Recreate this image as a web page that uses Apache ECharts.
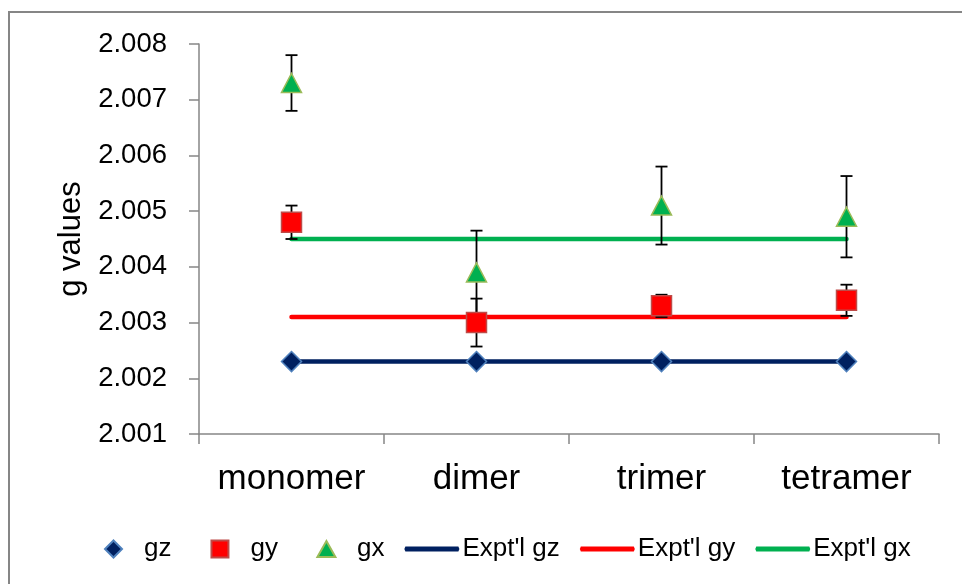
<!DOCTYPE html>
<html>
<head>
<meta charset="utf-8">
<script src="https://cdn.jsdelivr.net/npm/echarts@6/dist/echarts.min.js"></script>
<style>
html,body{margin:0;padding:0;background:#fff;}
#chart{width:962px;height:584px;}
</style>
</head>
<body>
<div id="chart"></div>
<script>
const categories = ['monomer', 'dimer', 'trimer', 'tetramer'];
const gz = [2.0023, 2.0023, 2.0023, 2.0023];
const gy = [2.0048, 2.0030, 2.0033, 2.0034];
const gyErr = [0.0003, 0.00043, 0.0002, 0.00028];
const gx = [2.0073, 2.0039, 2.0051, 2.0049];
const gxErr = [0.0005, 0.00075, 0.0007, 0.00073];
const exptGz = [2.0023, 2.0023, 2.0023, 2.0023];
const exptGy = [2.0031, 2.0031, 2.0031, 2.0031];
const exptGx = [2.0045, 2.0045, 2.0045, 2.0045];
const yTicks = { min: 2.001, max: 2.008, interval: 0.001 };

const FONT = 'Liberation Sans';
const AXIS_COLOR = '#868686';
const C_GZ = '#002060', C_GY = '#FF0000', C_GX = '#00B050';

function errSeries(name, vals, errs) {
  return {
    name: name + ' err',
    type: 'custom',
    z: 3,
    silent: true,
    data: vals.map((v, i) => [i, v, errs[i]]),
    encode: { x: 0, y: 1 },
    renderItem: function (params, api) {
      const i = api.value(0);
      const v = api.value(1);
      const e = api.value(2);
      const hi = api.coord([i, v + e]);
      const lo = api.coord([i, v - e]);
      const cw = 6;
      const st = { stroke: '#000', lineWidth: 1.8 };
      return {
        type: 'group',
        children: [
          { type: 'line', shape: { x1: hi[0], y1: hi[1], x2: lo[0], y2: lo[1] }, style: st },
          { type: 'line', shape: { x1: hi[0] - cw, y1: hi[1], x2: hi[0] + cw, y2: hi[1] }, style: st },
          { type: 'line', shape: { x1: lo[0] - cw, y1: lo[1], x2: lo[0] + cw, y2: lo[1] }, style: st }
        ]
      };
    }
  };
}

function exptLine(name, vals, color) {
  return {
    name: name,
    type: 'line',
    z: 2,
    data: vals,
    symbol: 'none',
    showSymbol: false,
    lineStyle: { color: color, width: 4.5, cap: 'round' },
    itemStyle: { color: color }
  };
}

const LINE_ICON = 'path://M0,0M55,18M1,6.5L54,6.5L55,9L54,11.5L1,11.5L0,9Z';
const lineLegend = (name, color) => ({
  name: name,
  icon: LINE_ICON,
  itemStyle: { color: color, borderWidth: 0 }
});

const chart = echarts.init(document.getElementById('chart'), null, { renderer: 'canvas' });
chart.setOption({
  animation: false,
  backgroundColor: '#ffffff',
  textStyle: { fontFamily: FONT, color: '#000' },
  graphic: [{
    type: 'rect',
    silent: true,
    shape: { x: 9, y: 12, width: 1000, height: 1000 },
    style: { fill: 'none', stroke: AXIS_COLOR, lineWidth: 2 }
  }],
  grid: { left: 199, right: 23, top: 44, bottom: 150, containLabel: false },
  legend: {
    left: 80,
    top: 531,
    itemWidth: 55,
    itemHeight: 18,
    itemGap: 20,
    textStyle: { fontFamily: FONT, fontSize: 26, color: '#000', padding: [0, 0, 0, -2] },
    data: [
      { name: 'gz', icon: 'path://M0,0M55,18M27.5,0.5L36,9L27.5,17.5L19,9Z' },
      { name: 'gy', icon: 'path://M0,0M55,18M19,0.5L36,0.5L36,17.5L19,17.5Z' },
      { name: 'gx', icon: 'path://M0,0M55,18M27.5,1L36.5,17L18.5,17Z' },
      lineLegend("Expt'l gz", C_GZ),
      lineLegend("Expt'l gy", C_GY),
      lineLegend("Expt'l gx", C_GX)
    ]
  },
  xAxis: {
    type: 'category',
    data: categories,
    boundaryGap: true,
    axisLine: { lineStyle: { color: AXIS_COLOR, width: 1.5 } },
    axisTick: { show: true, length: 10, inside: false, alignWithLabel: false, lineStyle: { color: AXIS_COLOR, width: 1.5 } },
    axisLabel: { fontFamily: FONT, fontSize: 35, color: '#000', margin: 28, interval: 0 },
    splitLine: { show: false }
  },
  yAxis: {
    type: 'value',
    min: yTicks.min,
    max: yTicks.max,
    interval: yTicks.interval,
    name: 'g values',
    nameLocation: 'middle',
    nameGap: 112,
    nameRotate: 90,
    nameTextStyle: { fontFamily: FONT, fontSize: 31, color: '#000' },
    axisLine: { show: true, lineStyle: { color: AXIS_COLOR, width: 1.5 } },
    axisTick: { show: true, length: 10, inside: false, lineStyle: { color: AXIS_COLOR, width: 1.5 } },
    axisLabel: {
      fontFamily: FONT, fontSize: 27.5, color: '#000', margin: 32,
      formatter: v => v.toFixed(3)
    },
    splitLine: { show: false }
  },
  series: [
    exptLine("Expt'l gz", exptGz, C_GZ),
    exptLine("Expt'l gy", exptGy, C_GY),
    exptLine("Expt'l gx", exptGx, C_GX),
    errSeries('gy', gy, gyErr),
    errSeries('gx', gx, gxErr),
    {
      name: 'gz', type: 'scatter', z: 4, data: gz,
      symbol: 'diamond', symbolSize: 20,
      itemStyle: { color: C_GZ, borderColor: '#4F81BD', borderWidth: 1.5, opacity: 1 }
    },
    {
      name: 'gy', type: 'scatter', z: 4, data: gy,
      symbol: 'rect', symbolSize: 20,
      itemStyle: { color: C_GY, borderColor: '#BE4B48', borderWidth: 1.5, opacity: 1 }
    },
    {
      name: 'gx', type: 'scatter', z: 4, data: gx,
      symbol: 'triangle', symbolSize: [20, 19],
      itemStyle: { color: C_GX, borderColor: '#9BBB59', borderWidth: 1.5, opacity: 1 }
    }
  ]
});
</script>
</body>
</html>
